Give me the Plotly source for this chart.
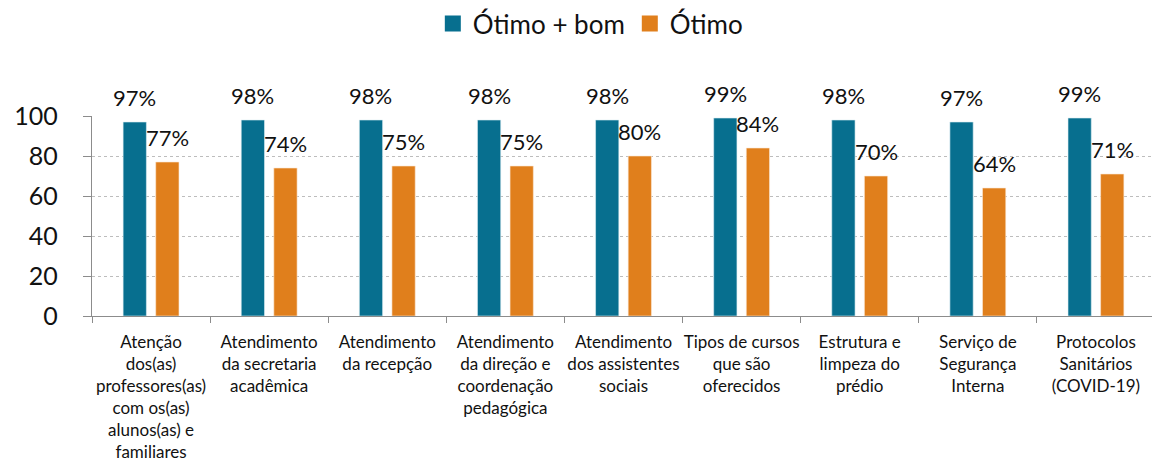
import plotly.graph_objects as go

categorias = [
    "Atenção<br>dos(as)<br>professores(as)<br>com os(as)<br>alunos(as) e<br>familiares",
    "Atendimento<br>da secretaria<br>acadêmica",
    "Atendimento<br>da recepção",
    "Atendimento<br>da direção e<br>coordenação<br>pedagógica",
    "Atendimento<br>dos assistentes<br>sociais",
    "Tipos de cursos<br>que são<br>oferecidos",
    "Estrutura e<br>limpeza do<br>prédio",
    "Serviço de<br>Segurança<br>Interna",
    "Protocolos<br>Sanitários<br>(COVID-19)",
]
otimo_bom = [97, 98, 98, 98, 98, 99, 98, 97, 99]
otimo = [77, 74, 75, 75, 80, 84, 70, 64, 71]
series = ["Ótimo + bom", "Ótimo"]

AZUL = "#076F8F"
LARANJA = "#E07F1C"
FONTE = "Lato, 'Open Sans', sans-serif"

largura = 0.197
vao = 0.079

fig = go.Figure()
fig.add_trace(go.Bar(x=categorias, y=otimo_bom, name=series[0], showlegend=False,
                     marker=dict(color=AZUL, line=dict(color="#DDEEF3", width=0.6)),
                     width=largura, offset=-largura - vao / 2))
fig.add_trace(go.Bar(x=categorias, y=otimo, name=series[1], showlegend=False,
                     marker=dict(color=LARANJA, line=dict(color="#FBE9D6", width=0.6)),
                     width=largura, offset=vao / 2))

# legenda com quadrados maiores
for nome, cor in zip(series, (AZUL, LARANJA)):
    fig.add_trace(go.Scatter(x=[categorias[0]], y=[None], mode="markers", name=nome,
                             marker=dict(symbol="square", size=16, color=cor)))

# rótulos de dados
desloc = 16.3
for cat, a, b in zip(categorias, otimo_bom, otimo):
    for val, dx in ((a, -desloc), (b, desloc)):
        fig.add_annotation(x=cat, y=val, text=f"{val}%", showarrow=False,
                           xshift=dx, yshift=9, yanchor="bottom",
                           font=dict(size=22, color="#111111", family=FONTE))

fig.update_layout(
    width=1160, height=461,
    margin=dict(l=84, r=13, t=108, b=153, autoexpand=False),
    plot_bgcolor="white", paper_bgcolor="white",
    font=dict(family=FONTE, color="#111111"),
    barmode="group",
    showlegend=True,
    legend=dict(orientation="h", xref="container", yref="container",
                x=0.502, xanchor="center", y=0.966, yanchor="middle",
                font=dict(size=26), itemwidth=30, itemsizing="trace",
                traceorder="normal"),
    xaxis=dict(range=[-0.5, len(categorias) - 0.5],
               showline=True, linecolor="#8C8C8C", linewidth=1.3, automargin=False,
               ticks="outside", tickson="boundaries", ticklen=6, tickcolor="#8C8C8C",
               ticklabelstandoff=10,
               tickfont=dict(size=17, color="#111111"), tickangle=0),
    yaxis=dict(range=[0, 100], dtick=20, showline=True, linecolor="#8C8C8C", linewidth=1.3,
               automargin=False, ticks="outside", ticklen=8, tickcolor="#8C8C8C",
               ticklabelstandoff=20,
               showgrid=True, gridcolor="#BDBDBD", griddash="dot", gridwidth=1.2,
               zeroline=False, tickfont=dict(size=25, color="#111111")),
)

fig.write_html("out.html")
